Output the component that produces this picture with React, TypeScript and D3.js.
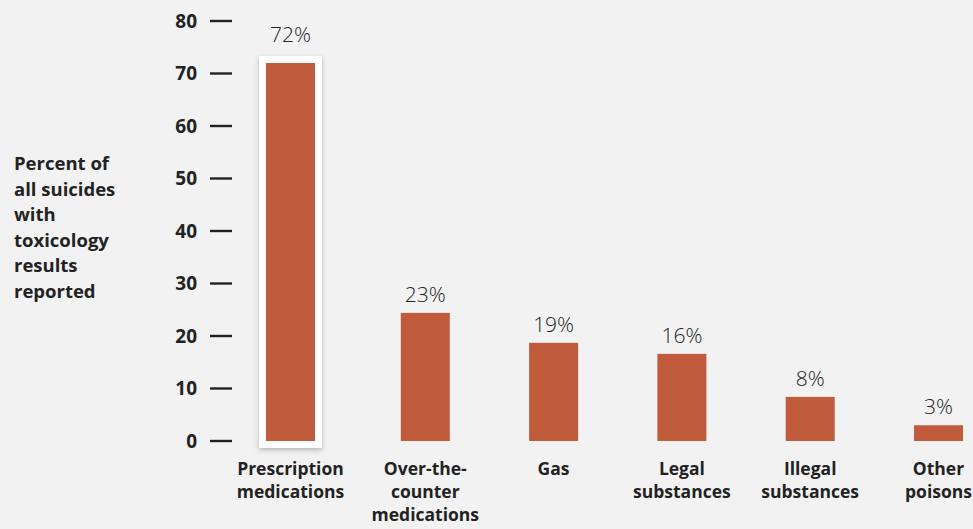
import React from "react";
import * as d3 from "d3";

const categories: string[][] = [
  ["Prescription", "medications"],
  ["Over-the-", "counter", "medications"],
  ["Gas"],
  ["Legal", "substances"],
  ["Illegal", "substances"],
  ["Other", "poisons"],
];
const values: number[] = [72, 24.4, 18.7, 16.6, 8.4, 3.0];
const valueLabels: string[] = ["72%", "23%", "19%", "16%", "8%", "3%"];
const yTicks: number[] = [0, 10, 20, 30, 40, 50, 60, 70, 80];
const yTitle: string[] = ["Percent of", "all suicides", "with", "toxicology", "results", "reported"];
const highlightIndex = 0;

const W = 973;
const H = 529;
const BG = "#f2f2f2";
const BAR = "#c05b3c";
const INK = "#222222";
const BOLD_FONT = "'Open Sans', 'DejaVu Sans', sans-serif";

export default function App() {
  const y = d3.scaleLinear().domain([0, 80]).range([441, 21]);
  const x = d3
    .scalePoint<number>()
    .domain(values.map((_, i) => i))
    .range([297, 938.5]);
  const barW = 49;
  const highlightShift = -6.5;
  const frame = 7;

  return (
    <svg
      width={W}
      height={H}
      style={{ position: "absolute", left: 0, top: 0, background: BG }}
    >
      <defs>
        <filter id="sh" x="-30%" y="-10%" width="160%" height="120%">
          <feDropShadow dx="0" dy="2" stdDeviation="2.5" floodColor="#000" floodOpacity="0.25" />
        </filter>
      </defs>
      <rect width={W} height={H} fill={BG} />

      {/* Y title */}
      <text
        fontFamily={BOLD_FONT}
        fontWeight={700}
        fontSize={18.5}
        fill={INK}
      >
        {yTitle.map((t, i) => (
          <tspan key={i} x={14} y={170 + i * 25.6}>
            {t}
          </tspan>
        ))}
      </text>

      {/* Y ticks */}
      {yTicks.map((t) => (
        <g key={t}>
          <text
            x={197}
            y={y(t)}
            dy="0.36em"
            textAnchor="end"
            fontFamily={BOLD_FONT}
            fontWeight={700}
            fontSize={19}
            fill={INK}
          >
            {t}
          </text>
          <line x1={210} x2={232} y1={y(t)} y2={y(t)} stroke={INK} strokeWidth={2.4} />
        </g>
      ))}

      {/* Bars */}
      {values.map((v, i) => {
        const cx = (x(i) as number) + (i === highlightIndex ? highlightShift : 0);
        const top = y(v);
        const bottom = y(0);
        return (
          <g key={i}>
            {i === highlightIndex && (
              <rect
                x={cx - barW / 2 - frame}
                y={top - frame}
                width={barW + frame * 2}
                height={bottom - top + frame * 2}
                fill="#ffffff"
                filter="url(#sh)"
              />
            )}
            <rect x={cx - barW / 2} y={top} width={barW} height={bottom - top} fill={BAR} />
            <text
              x={cx}
              y={top - (i === highlightIndex ? 21 : 11)}
              textAnchor="middle"
              fontFamily="'Open Sans', sans-serif"
              fontWeight={300}
              fontSize={21}
              fill={INK}
            >
              {valueLabels[i]}
            </text>
            <text
              textAnchor="middle"
              fontFamily={BOLD_FONT}
              fontWeight={700}
              fontSize={17.5}
              fill={INK}
            >
              {categories[i].map((line, j) => (
                <tspan key={j} x={cx} y={475 + j * 23}>
                  {line}
                </tspan>
              ))}
            </text>
          </g>
        );
      })}
    </svg>
  );
}
